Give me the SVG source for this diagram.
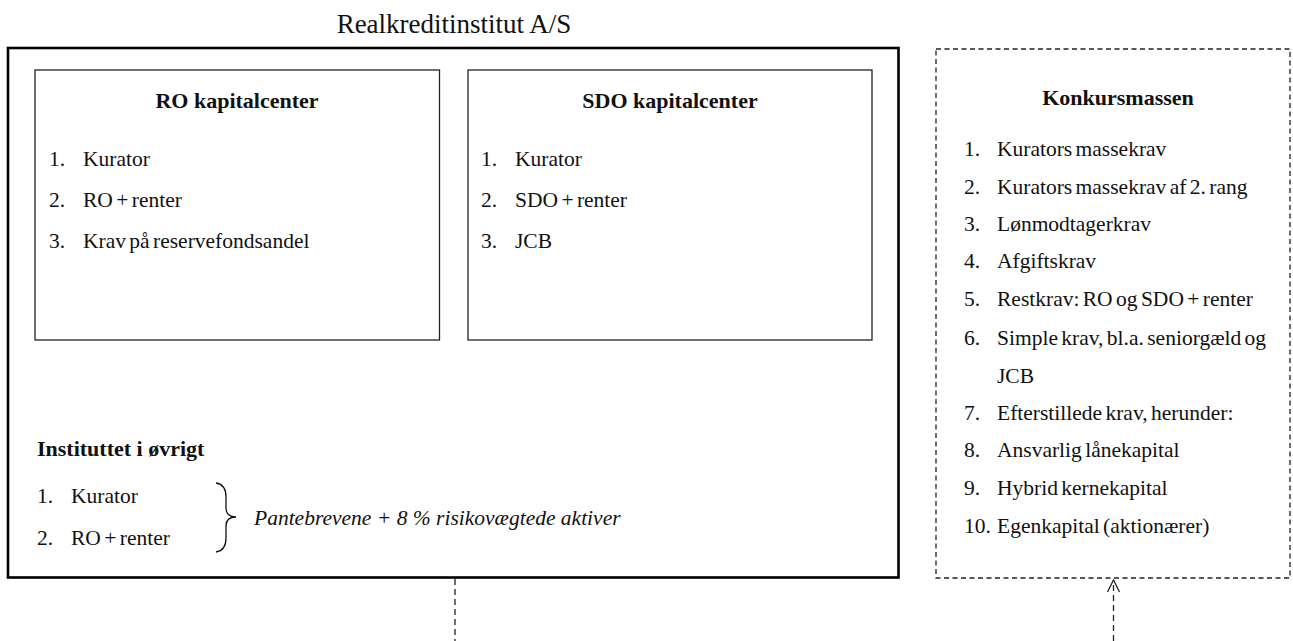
<svg xmlns="http://www.w3.org/2000/svg" width="1293" height="641" viewBox="0 0 1293 641">
  <style>
    text { font-family: "Liberation Serif", "DejaVu Serif", serif; fill: #111; }
    .title { font-size: 27px; }
    .head { font-size: 22px; font-weight: bold; }
    .item { font-size: 21.5px; word-spacing: -2px; }
    .note { font-size: 21.5px; font-style: italic; }
    .outer { fill: #fff; stroke: #000; stroke-width: 2.6; }
    .inner { fill: #fff; stroke: #222; stroke-width: 1.3; }
    .dashbox { fill: #fff; stroke: #222; stroke-width: 1.3; stroke-dasharray: 5 3.5; }
    .link { fill: none; stroke: #222; stroke-width: 1.3; stroke-dasharray: 6 4; }
  </style>
  <defs>
    <!-- open chevron head, drawn along +x so it follows the line direction -->
    <marker id="openArrow" viewBox="0 0 14 14" refX="13" refY="7" markerWidth="14" markerHeight="14" markerUnits="userSpaceOnUse" orient="auto">
      <path d="M1,1 L13,7 L1,13" fill="none" stroke="#222" stroke-width="1.3"/>
    </marker>
  </defs>

  <rect width="1293" height="641" fill="#fff"/>

  <!-- Mortgage institution with its capital centres -->
  <g id="institut">
    <text class="title" x="454" y="33" text-anchor="middle">Realkreditinstitut A/S</text>
    <rect class="outer" x="8" y="48" width="890.5" height="529.5"/>
  </g>

  <g id="ro-kapitalcenter">
    <rect class="inner" x="35" y="70" width="404.5" height="270"/>
    <text class="head" x="237" y="108" text-anchor="middle">RO kapitalcenter</text>
    <text class="item" x="49" y="166">1.</text><text class="item" x="83" y="166">Kurator</text>
    <text class="item" x="49" y="207">2.</text><text class="item" x="83" y="207">RO + renter</text>
    <text class="item" x="49" y="248">3.</text><text class="item" x="83" y="248">Krav på reservefondsandel</text>
  </g>

  <g id="sdo-kapitalcenter">
    <rect class="inner" x="468" y="70" width="404" height="270"/>
    <text class="head" x="670" y="108" text-anchor="middle">SDO kapitalcenter</text>
    <text class="item" x="481" y="166">1.</text><text class="item" x="515" y="166">Kurator</text>
    <text class="item" x="481" y="207">2.</text><text class="item" x="515" y="207">SDO + renter</text>
    <text class="item" x="481" y="248">3.</text><text class="item" x="515" y="248">JCB</text>
  </g>

  <g id="institut-oevrigt">
    <text class="head" x="37" y="456">Instituttet i øvrigt</text>
    <text class="item" x="37" y="503">1.</text><text class="item" x="71" y="503">Kurator</text>
    <text class="item" x="37" y="545">2.</text><text class="item" x="71" y="545">RO + renter</text>
    <path d="M216,483 C223,484 226,489 226,497 L226,508 C226,514 229,517 236,517 C229,517 226,520 226,526 L226,538 C226,546 223,551 216,552" fill="none" stroke="#111" stroke-width="1.3"/>
    <text class="note" x="254" y="525">Pantebrevene + 8 % risikovægtede aktiver</text>
  </g>

  <!-- Bankruptcy estate and order of claims -->
  <g id="konkursmassen">
    <rect class="dashbox" x="936" y="49" width="354" height="529"/>
    <text class="head" x="1118" y="105" text-anchor="middle">Konkursmassen</text>
    <text class="item" x="964" y="156">1.</text><text class="item" x="997" y="156">Kurators massekrav</text>
    <text class="item" x="964" y="194">2.</text><text class="item" x="997" y="194">Kurators massekrav af 2. rang</text>
    <text class="item" x="964" y="231">3.</text><text class="item" x="997" y="231">Lønmodtagerkrav</text>
    <text class="item" x="964" y="268">4.</text><text class="item" x="997" y="268">Afgiftskrav</text>
    <text class="item" x="964" y="306">5.</text><text class="item" x="997" y="306">Restkrav: RO og SDO + renter</text>
    <text class="item" x="964" y="345">6.</text><text class="item" x="997" y="345">Simple krav, bl.a. seniorgæld og</text>
    <text class="item" x="997" y="383">JCB</text>
    <text class="item" x="964" y="420">7.</text><text class="item" x="997" y="420">Efterstillede krav, herunder:</text>
    <text class="item" x="964" y="457">8.</text><text class="item" x="997" y="457">Ansvarlig lånekapital</text>
    <text class="item" x="964" y="495">9.</text><text class="item" x="997" y="495">Hybrid kernekapital</text>
    <text class="item" x="964" y="533">10.</text><text class="item" x="997" y="533">Egenkapital (aktionærer)</text>
  </g>

  <g id="connectors">
    <line class="link" x1="455" y1="579" x2="455" y2="641"/>
    <line class="link" x1="1113.5" y1="641" x2="1113.5" y2="580" marker-end="url(#openArrow)"/>
  </g>
</svg>
